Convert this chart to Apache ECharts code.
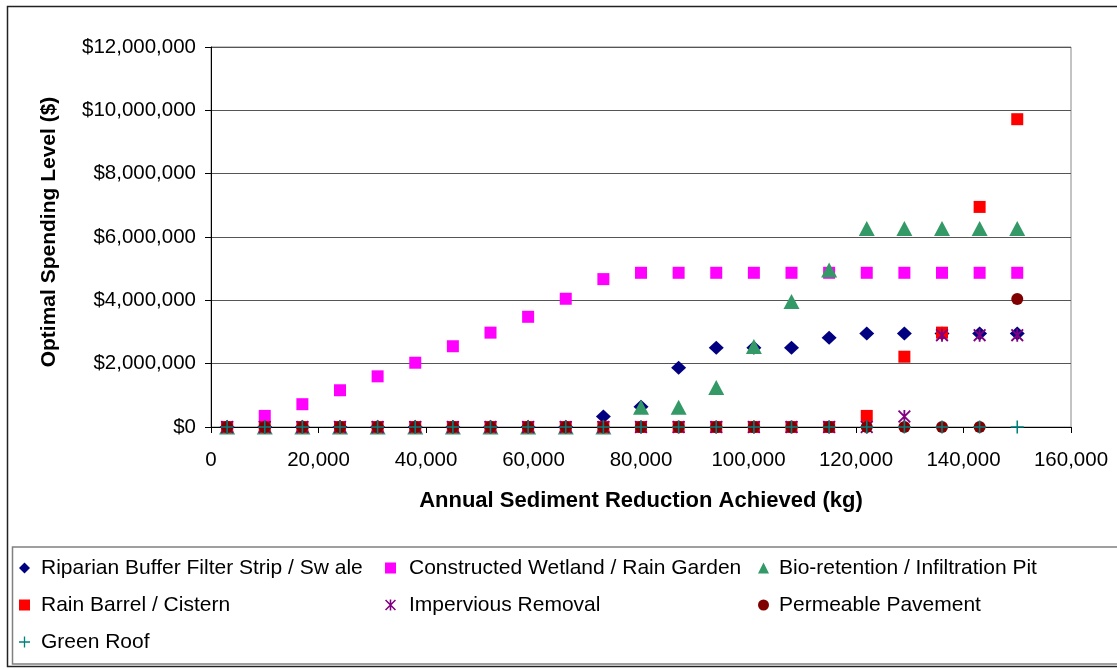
<!DOCTYPE html>
<html>
<head>
<meta charset="utf-8">
<script src="https://cdn.jsdelivr.net/npm/echarts@6/dist/echarts.min.js"></script>
<style>
  html, body { margin: 0; padding: 0; background: #fff; }
  #chart { width: 1117px; height: 669px; }
</style>
</head>
<body>
<div id="chart"></div>
<script>
// Annual sediment reduction targets (kg)
const reductionKg = [3000, 10000, 17000, 24000, 31000, 38000, 45000, 52000, 59000, 66000, 73000,
                     80000, 87000, 94000, 101000, 108000, 115000, 122000, 129000, 136000, 143000, 150000];

// Optimal spending per practice ($)
const riparianBuffer = [0, 0, 0, 0, 0, 0, 0, 0, 0, 0, 330000,
                        640000, 1870000, 2500000, 2500000, 2500000, 2820000, 2950000, 2950000, 2950000, 2950000, 2950000];
const constructedWetland = [0, 350000, 720000, 1160000, 1600000, 2030000, 2550000, 2980000, 3480000, 4050000, 4670000,
                            4870000, 4870000, 4870000, 4870000, 4870000, 4870000, 4870000, 4870000, 4870000, 4870000, 4870000];
const bioRetention = [0, 0, 0, 0, 0, 0, 0, 0, 0, 0, 0,
                      620000, 620000, 1250000, 2540000, 3960000, 4960000, 6270000, 6270000, 6270000, 6270000, 6270000];
const rainBarrel = [0, 0, 0, 0, 0, 0, 0, 0, 0, 0, 0,
                    0, 0, 0, 0, 0, 0, 350000, 2220000, 2980000, 6950000, 9720000];
const imperviousRemoval = [0, 0, 0, 0, 0, 0, 0, 0, 0, 0, 0,
                           0, 0, 0, 0, 0, 0, 0, 330000, 2900000, 2900000, 2900000];
const permeablePavement = [0, 0, 0, 0, 0, 0, 0, 0, 0, 0, 0,
                           0, 0, 0, 0, 0, 0, 0, 0, 0, 0, 4040000];
const greenRoof = [0, 0, 0, 0, 0, 0, 0, 0, 0, 0, 0,
                   0, 0, 0, 0, 0, 0, 0, 0, 0, 0, 0];

const seriesNames = [
  'Riparian Buffer Filter Strip / Sw ale',
  'Constructed Wetland / Rain Garden',
  'Bio-retention / Infiltration Pit',
  'Rain Barrel / Cistern',
  'Impervious Removal',
  'Permeable Pavement',
  'Green Roof'
];

const FONT = '"Liberation Sans", Arial, sans-serif';

// Stroke-like glyphs built as filled outlines
const ASTERISK = 'path://M4.3,0 L5.7,0 L5.7,10 L4.3,10 Z M0,1 L1,0 L10,9 L9,10 Z M9,0 L10,1 L1,10 L0,9 Z';
const PLUS = 'path://M4.4,0 L5.6,0 L5.6,4.4 L10,4.4 L10,5.6 L5.6,5.6 L5.6,10 L4.4,10 L4.4,5.6 L0,5.6 L0,4.4 L4.4,4.4 Z';

const styles = [
  { data: riparianBuffer,      symbol: 'diamond',  size: [15, 14], color: '#000080' },
  { data: constructedWetland,  symbol: 'rect',     size: 12,       color: '#FF00FF' },
  { data: bioRetention,        symbol: 'triangle', size: [16, 15], color: '#339966' },
  { data: rainBarrel,          symbol: 'rect',     size: 12,       color: '#FF0000' },
  { data: imperviousRemoval,   symbol: ASTERISK,   size: 13,       color: '#800080' },
  { data: permeablePavement,   symbol: 'circle',   size: 12,       color: '#800000' },
  { data: greenRoof,           symbol: PLUS,       size: 13,       color: '#008080' }
];

const series = styles.map((s, i) => ({
  name: seriesNames[i],
  type: 'scatter',
  symbol: s.symbol,
  symbolSize: s.size,
  itemStyle: { color: s.color, opacity: 1 },
  data: reductionKg.map((x, k) => [x, s.data[k]]),
  z: 2 + i
}));

// Legend slots: [left, top, text padding] per entry, three columns by three rows
const legendSlots = [
  [19, 557, 6], [385, 557, 8], [758, 557, 5],
  [19, 594, 6], [385, 594, 8], [758, 594, 5],
  [19, 631, 6]
];

const legends = seriesNames.map((name, i) => ({
  data: [name],
  left: legendSlots[i][0],
  top: legendSlots[i][1],
  padding: 0,
  itemWidth: 11,
  itemHeight: 11,
  selectedMode: false,
  textStyle: {
    fontFamily: FONT, fontSize: 21, color: '#000',
    lineHeight: 22, padding: [0, 0, 0, legendSlots[i][2]]
  }
}));

const chart = echarts.init(document.getElementById('chart'), null, { renderer: 'canvas' });

chart.setOption({
  backgroundColor: '#fff',
  animation: false,
  textStyle: { fontFamily: FONT },
  graphic: [
    { type: 'rect', shape: { x: 7.5, y: 6.5, width: 1120, height: 660 },
      style: { fill: 'none', stroke: '#222', lineWidth: 1.5 }, z: -1 },
    { type: 'rect', shape: { x: 12.5, y: 547, width: 1120, height: 117 },
      style: { fill: 'none', stroke: '#808080', lineWidth: 1.5 }, z: -1 }
  ],
  grid: {
    left: 211, right: 46, top: 47, bottom: 242,
    show: true, borderColor: '#888', borderWidth: 1, backgroundColor: '#fff'
  },
  legend: legends,
  xAxis: {
    type: 'value', min: 0, max: 160000, interval: 20000,
    name: 'Annual Sediment Reduction Achieved (kg)',
    nameLocation: 'middle', nameGap: 63,
    nameTextStyle: { fontFamily: FONT, fontSize: 22, fontWeight: 'bold', color: '#000' },
    axisLine: { show: true, onZero: false, lineStyle: { color: '#000', width: 1 } },
    axisTick: { show: true, inside: false, length: 6, lineStyle: { color: '#000' } },
    axisLabel: {
      fontFamily: FONT, fontSize: 20.5, color: '#000', margin: 23,
      formatter: v => v.toLocaleString('en-US')
    },
    splitLine: { show: false }
  },
  yAxis: {
    type: 'value', min: 0, max: 12000000, interval: 2000000,
    name: 'Optimal Spending Level ($)',
    nameLocation: 'middle', nameRotate: 90, nameGap: 151,
    nameTextStyle: {
      fontFamily: FONT, fontSize: 21, fontWeight: 'bold', color: '#000',
      padding: [0, 0, 0, 10]
    },
    axisLine: { show: true, lineStyle: { color: '#000', width: 1 } },
    axisTick: { show: true, inside: false, length: 6, lineStyle: { color: '#000' } },
    axisLabel: {
      fontFamily: FONT, fontSize: 20.5, color: '#000', margin: 15,
      formatter: v => '$' + v.toLocaleString('en-US')
    },
    splitLine: { show: true, lineStyle: { color: '#555', width: 1 } }
  },
  series: series
});
</script>
</body>
</html>
